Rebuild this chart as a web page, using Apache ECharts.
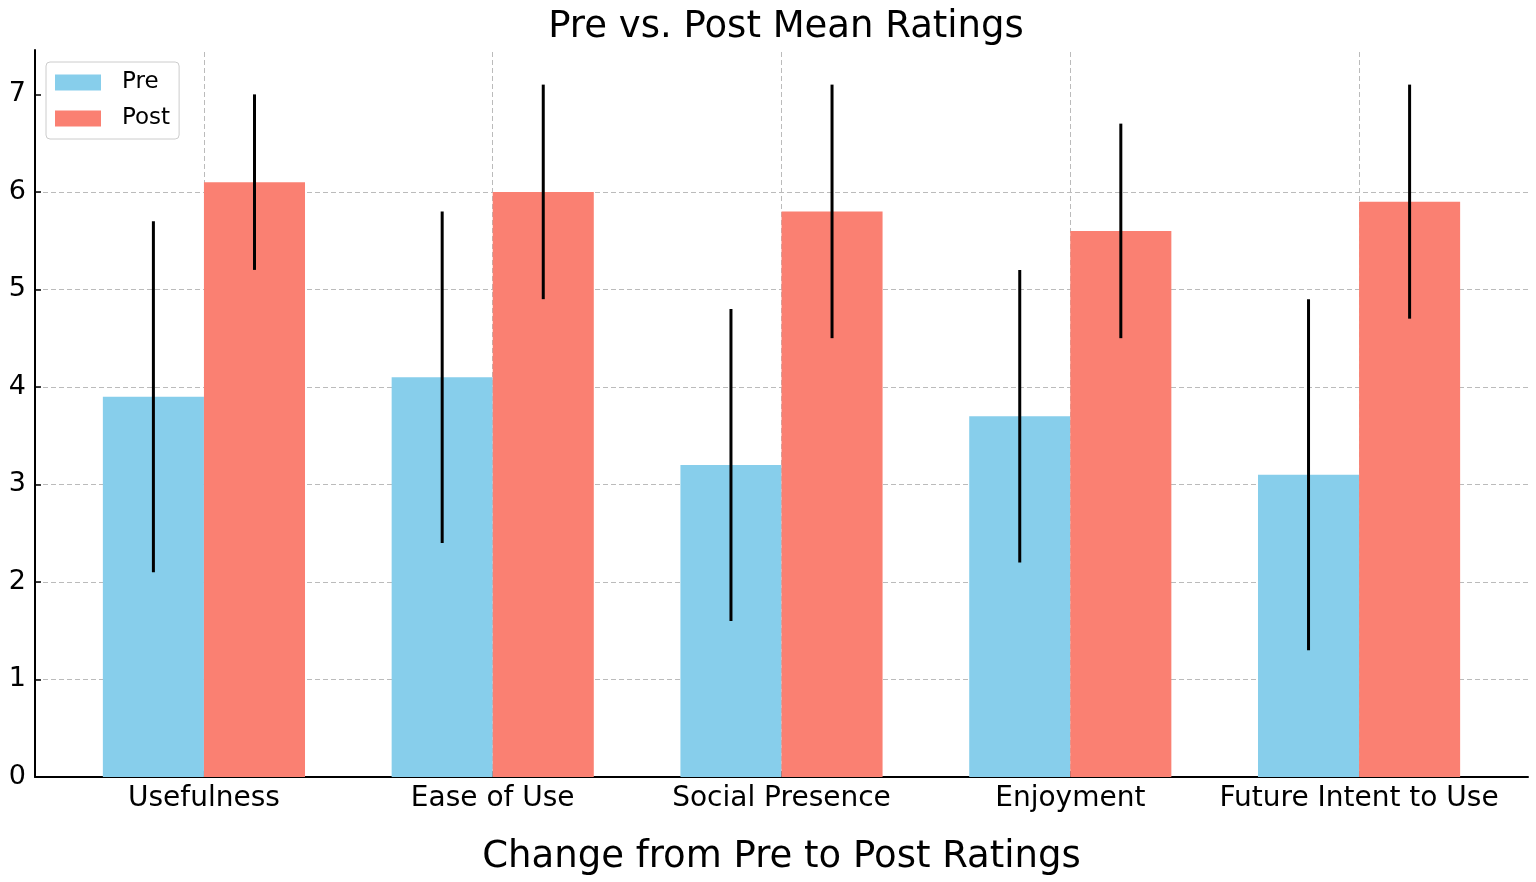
<!DOCTYPE html>
<html>
<head>
<meta charset="utf-8">
<script src="https://cdn.jsdelivr.net/npm/echarts@6/dist/echarts.min.js"></script>
<style>
html,body{margin:0;padding:0;background:#fff;}
#chart{width:1536px;height:882px;}
</style>
</head>
<body>
<div id="chart"></div>
<script>
// 数据
var categories = ['Usefulness', 'Ease of Use', 'Social Presence', 'Enjoyment', 'Future Intent to Use'];
var preMeans = [3.9, 4.1, 3.2, 3.7, 3.1];
var preSD = [1.8, 1.7, 1.6, 1.5, 1.8];
var postMeans = [6.1, 6.0, 5.8, 5.6, 5.9];
var postSD = [0.9, 1.1, 1.3, 1.1, 1.2];
var yTicks = [0, 1, 2, 3, 4, 5, 6, 7];
var xTicks = [0, 1, 2, 3, 4];

var barW = 0.35;
var font = 'DejaVu Sans';
var gridColor = '#bbb';

function toData(means, sds){
	var out = [];
	for(var i=0;i<means.length;i++)
	{
		out.push([i, means[i], sds[i]]);
	}
	return out;
}

// offset: -1 = 左侧柱, 0 = 右侧柱
function makeRender(offset, color){
	return function(params, api){
		var x = api.value(0), v = api.value(1), sd = api.value(2);
		var x0 = x + offset*barW, x1 = x0 + barW;
		var p0 = api.coord([x0, v]), p1 = api.coord([x1, 0]);
		var xc = api.coord([x0 + barW/2, 0])[0];
		var eTop = api.coord([x, v + sd])[1], eBot = api.coord([x, v - sd])[1];
		return {
			type: 'group',
			children: [{
				type: 'rect',
				shape: {x: p0[0], y: p0[1], width: p1[0]-p0[0], height: p1[1]-p0[1]},
				style: {fill: color}
			},{
				type: 'line',
				shape: {x1: xc, y1: eTop, x2: xc, y2: eBot},
				style: {stroke: '#000', lineWidth: 3}
			}]
		};
	};
}

var eChart = echarts.init(document.getElementById('chart'));

var option = {
	animation: false,
	textStyle: {fontFamily: font},
	title: {
		text: 'Pre vs. Post Mean Ratings',
		left: 781,
		textAlign: 'center',
		top: 4,
		textStyle: {fontFamily: font, fontSize: 37, fontWeight: 'normal', color: '#000'}
	},
	legend: {
		data: ['Pre', 'Post'],
		orient: 'vertical',
		left: 46,
		top: 62,
		itemWidth: 46,
		itemHeight: 16,
		itemGap: 13,
		icon: 'rect',
		padding: [9, 9, 9, 9],
		borderColor: '#ccc',
		borderWidth: 1,
		borderRadius: 4,
		textStyle: {fontFamily: font, fontSize: 23, color: '#000', padding: [0, 0, 0, 16]}
	},
	grid: {left: 35, right: 8, top: 50, bottom: 105, containLabel: false},
	xAxis: {
		type: 'value',
		min: -0.585,
		max: 4.585,
		name: 'Change from Pre to Post Ratings',
		nameLocation: 'middle',
		nameGap: 62,
		nameTextStyle: {fontFamily: font, fontSize: 37, color: '#000'},
		axisLine: {onZero: false, lineStyle: {color: '#000', width: 2}},
		axisTick: {show: true, inside: true, length: 6, customValues: xTicks, lineStyle: {color: '#000', width: 1.5}},
		axisLabel: {
			customValues: xTicks,
			margin: 8,
			fontFamily: font, fontSize: 28, color: '#000',
			formatter: function(v){ return categories[Math.round(v)]; }
		},
		splitLine: {show: false}
	},
	yAxis: {
		type: 'value',
		min: 0,
		max: 7.455,
		interval: 1,
		axisLine: {show: true, onZero: false, lineStyle: {color: '#000', width: 2}},
		axisTick: {show: true, inside: true, length: 6, customValues: yTicks, lineStyle: {color: '#000', width: 1.5}},
		axisLabel: {
			customValues: yTicks,
			margin: 9,
			fontFamily: font, fontSize: 27, color: '#000'
		},
		splitLine: {show: true, showMinLine: false, showMaxLine: false, lineStyle: {color: gridColor, type: [5, 3], width: 1}}
	},
	series: [{
		name: 'Pre',
		type: 'custom',
		itemStyle: {color: '#87CEEB'},
		renderItem: makeRender(-1, '#87CEEB'),
		data: toData(preMeans, preSD),
		markLine: {
			silent: true,
			symbol: 'none',
			label: {show: false},
			lineStyle: {color: gridColor, type: [5, 3], width: 1},
			data: xTicks.map(function(t){ return {xAxis: t}; }),
			z: 0
		},
		z: 2
	},{
		name: 'Post',
		type: 'custom',
		itemStyle: {color: '#FA8072'},
		renderItem: makeRender(0, '#FA8072'),
		data: toData(postMeans, postSD),
		z: 2
	}]
};

eChart.setOption(option);
</script>
</body>
</html>
